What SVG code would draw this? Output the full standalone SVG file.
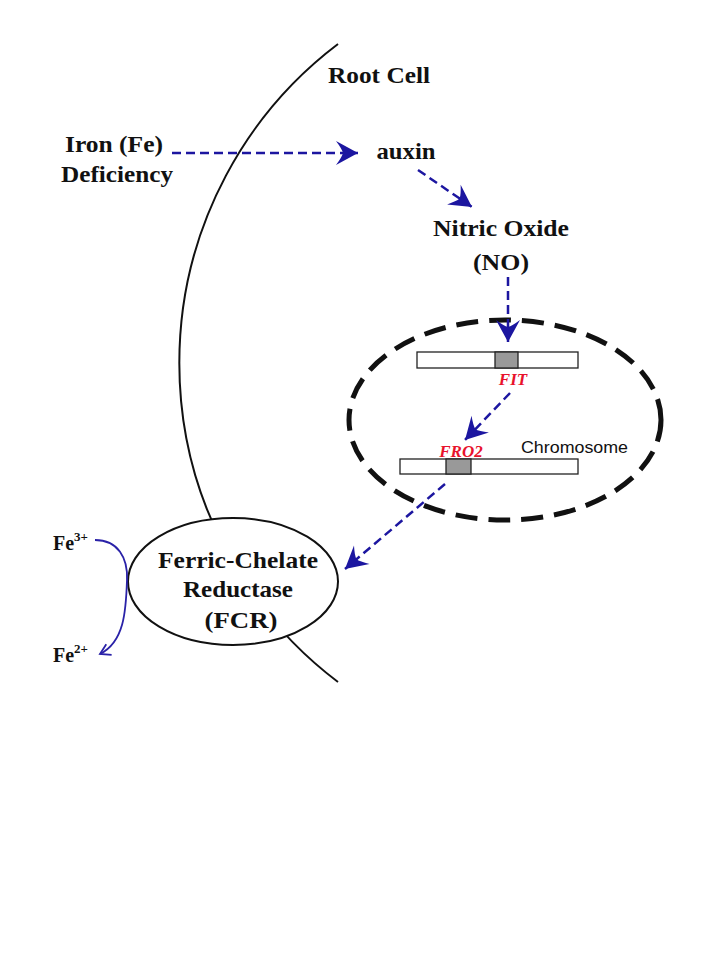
<svg xmlns="http://www.w3.org/2000/svg" width="720" height="960" viewBox="0 0 720 960">
<style>
.lbl{font-family:"Liberation Serif","Times New Roman",serif;font-weight:bold;font-size:23px;fill:#111;text-anchor:middle}
.gene{font-family:"Liberation Serif","Times New Roman",serif;font-weight:bold;font-style:italic;font-size:17px;fill:#e8122c;text-anchor:middle}
.fe{font-family:"Liberation Serif","Times New Roman",serif;font-weight:bold;font-size:20px;fill:#111}
.sup{font-size:13px}
.dash{fill:none;stroke:#1c16a0;stroke-width:2.5;stroke-dasharray:9 5;marker-end:url(#head)}
.chrom{fill:#fff;stroke:#222;stroke-width:1.3}
.band{fill:#999;stroke:#222;stroke-width:1.3}
</style>
<defs>
<marker id="head" viewBox="-24 -14 26 28" refX="0" refY="0" markerWidth="26" markerHeight="28" markerUnits="userSpaceOnUse" orient="auto">
<path d="M0,0 L-22,-12 Q-16,-4 -15,0 Q-16,4 -22,12 Z" fill="#1c16a0"/>
</marker>
<marker id="open" viewBox="-12 -8 14 16" refX="0" refY="0" markerWidth="14" markerHeight="16" markerUnits="userSpaceOnUse" orient="auto">
<path d="M-10,-6 L0,0 L-10,6" fill="none" stroke="#2a22a8" stroke-width="1.8"/>
</marker>
</defs>
<rect width="720" height="960" fill="#fff"/>

<g id="root-cell">
<path d="M338,44 A400,400 0 0 0 338,682" fill="none" stroke="#111" stroke-width="2"/>
<text class="lbl" x="379" y="83" textLength="102" lengthAdjust="spacingAndGlyphs">Root Cell</text>
</g>

<g id="iron-deficiency">
<text class="lbl" x="114" y="152" textLength="98" lengthAdjust="spacingAndGlyphs">Iron (Fe)</text>
<text class="lbl" x="117" y="182" textLength="112" lengthAdjust="spacingAndGlyphs">Deficiency</text>
</g>

<g id="auxin">
<text class="lbl" x="406" y="159" textLength="59" lengthAdjust="spacingAndGlyphs">auxin</text>
</g>

<g id="nitric-oxide">
<text class="lbl" x="501" y="236" textLength="136" lengthAdjust="spacingAndGlyphs">Nitric Oxide</text>
<text class="lbl" x="501" y="270" textLength="56" lengthAdjust="spacingAndGlyphs">(NO)</text>
</g>

<g id="nucleus">
<ellipse cx="505" cy="420" rx="156" ry="100" fill="none" stroke="#111" stroke-width="5" stroke-dasharray="22 11"/>
<text x="521" y="453" font-family="'Liberation Sans',Arial,sans-serif" font-size="16" fill="#111" textLength="107" lengthAdjust="spacingAndGlyphs">Chromosome</text>
</g>

<g id="fit-gene">
<rect class="chrom" x="417" y="352" width="161" height="16"/>
<rect class="band" x="495" y="352" width="23" height="16"/>
<text class="gene" x="513" y="385" font-size="18">FIT</text>
</g>

<g id="fro2-gene">
<rect class="chrom" x="400" y="459" width="178" height="15"/>
<rect class="band" x="446" y="459" width="25" height="15"/>
<text class="gene" x="461" y="457">FRO2</text>
</g>

<g id="fcr">
<ellipse cx="233" cy="581.5" rx="105" ry="63.5" fill="#fff" stroke="#111" stroke-width="2"/>
<text class="lbl" x="238" y="568" textLength="160" lengthAdjust="spacingAndGlyphs">Ferric-Chelate</text>
<text class="lbl" x="238" y="597" textLength="110" lengthAdjust="spacingAndGlyphs">Reductase</text>
<text class="lbl" x="241" y="628" textLength="73" lengthAdjust="spacingAndGlyphs">(FCR)</text>
</g>

<g id="fe3">
<text class="fe" x="53" y="550">Fe<tspan class="sup" dy="-9">3+</tspan></text>
</g>
<g id="fe2">
<text class="fe" x="53" y="662">Fe<tspan class="sup" dy="-9">2+</tspan></text>
</g>

<g id="connectors">
<path class="dash" d="M172,153 L358,153"/>
<path class="dash" d="M418,170 L472,207"/>
<path class="dash" d="M508,277 L508,342"/>
<path class="dash" d="M510,393 L465,440"/>
<path class="dash" d="M445,484 L345,569"/>
<path d="M95,540 C118,540 128,558 127,580 C126,612 124,642 100,654" fill="none" stroke="#2a22a8" stroke-width="1.8" marker-end="url(#open)"/>
</g>
</svg>
